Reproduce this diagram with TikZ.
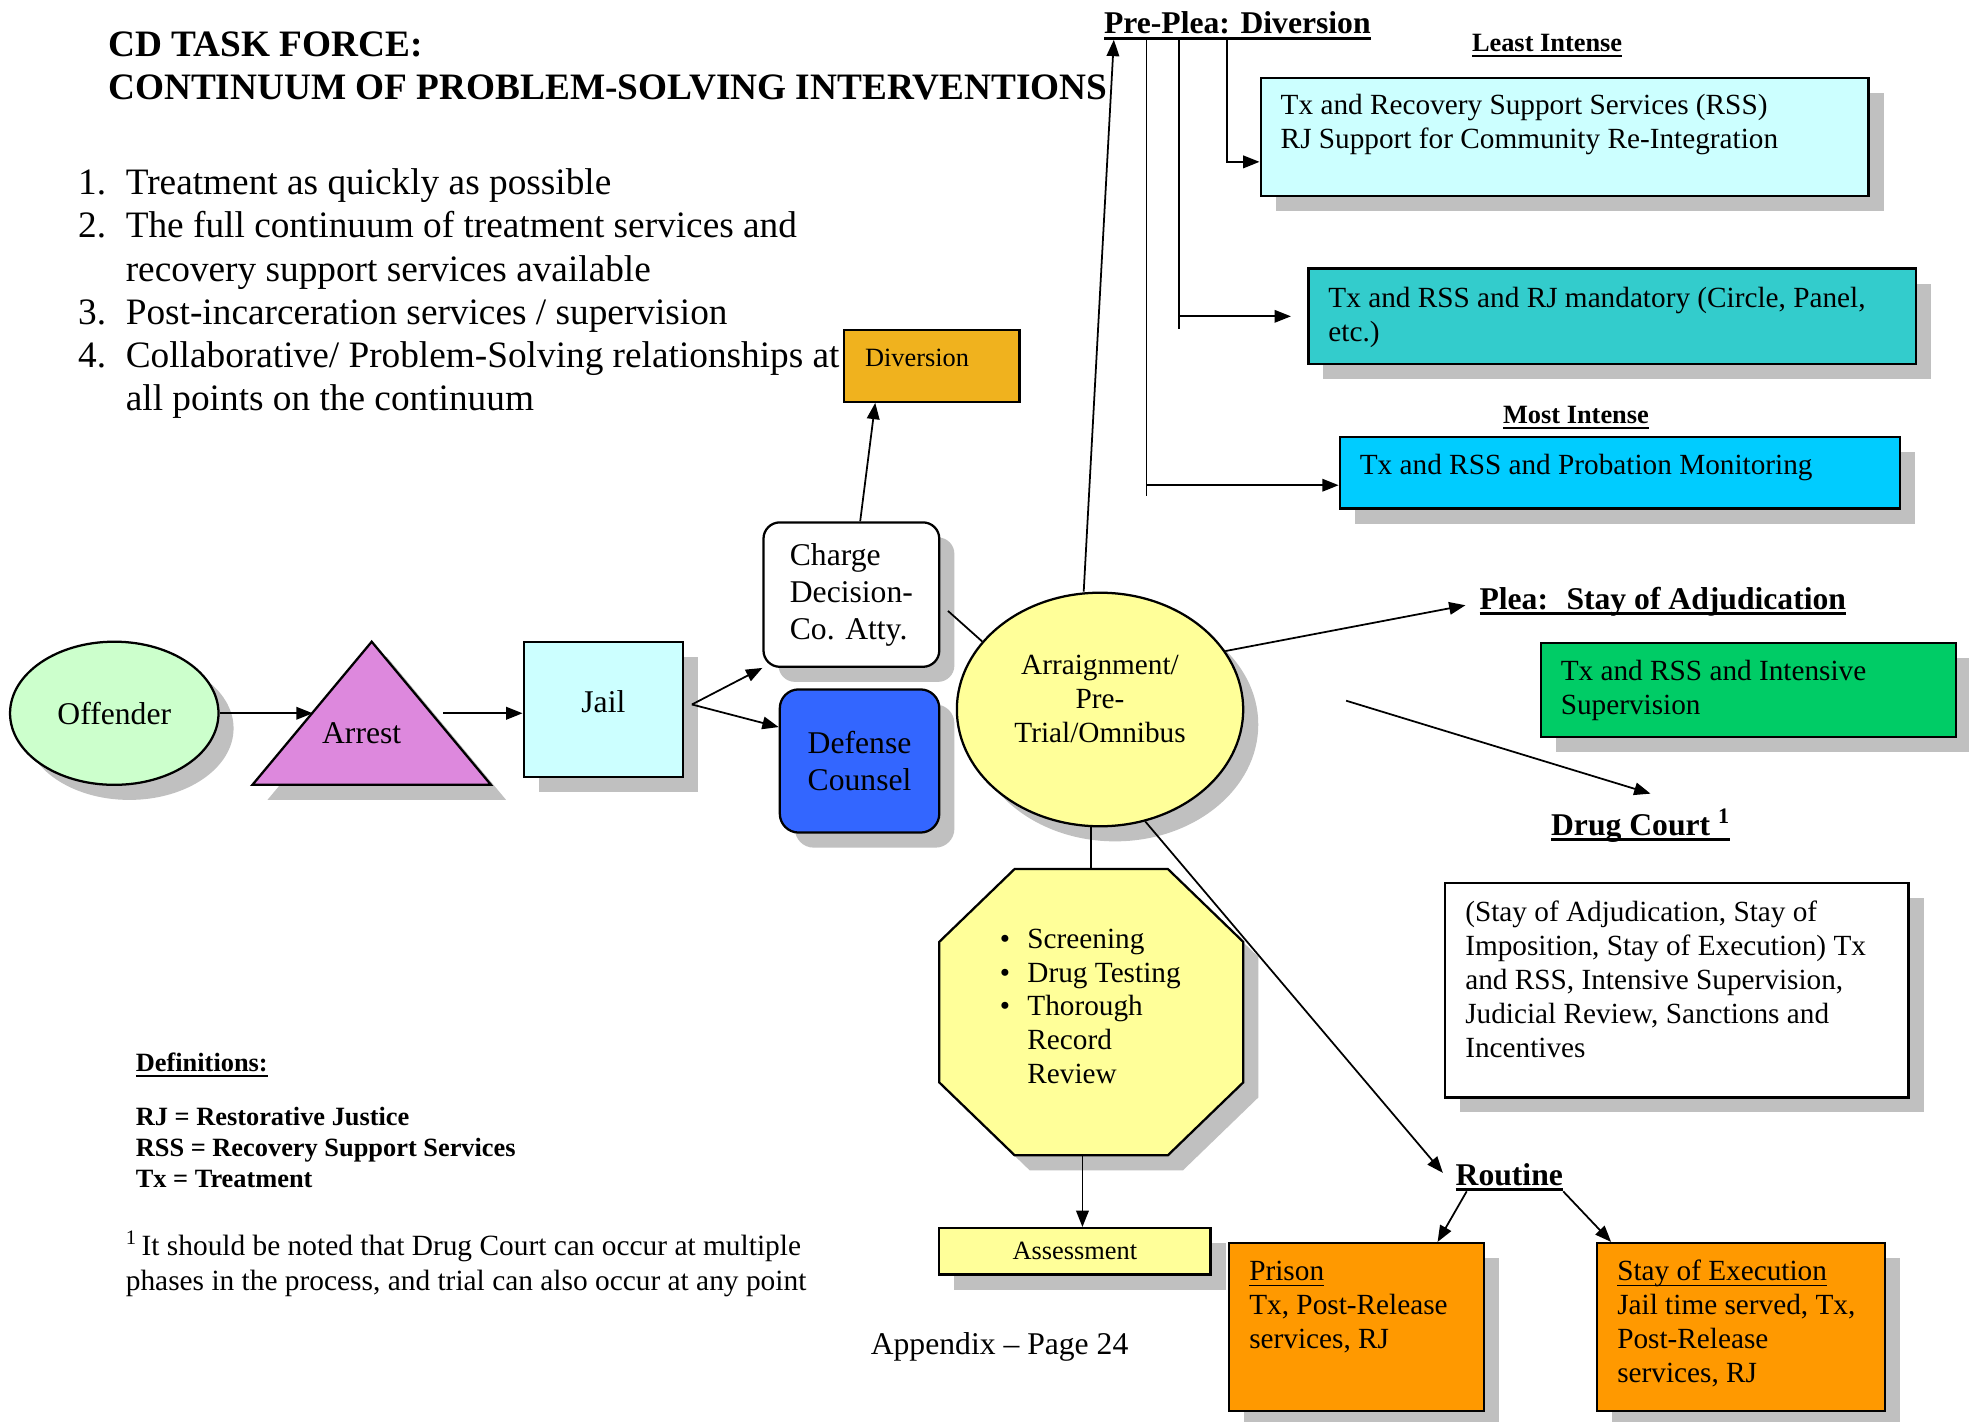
\documentclass[tikz,border=0pt]{standalone}
\usepackage{fontspec}
\setmainfont{Liberation Serif}
\usetikzlibrary{arrows.meta,shapes.geometric,shadows,calc}

\newlength{\du}
\setlength{\du}{1pt}

\definecolor{offgreen}{HTML}{CCFFCC}
\definecolor{arrestpink}{HTML}{DD88DD}
\definecolor{paleblue}{HTML}{CCFFFF}
\definecolor{divgold}{HTML}{F0B21E}
\definecolor{defblue}{HTML}{3366FF}
\definecolor{paleyellow}{HTML}{FFFF99}
\definecolor{mandteal}{HTML}{33CCCC}
\definecolor{probblue}{HTML}{00CCFF}
\definecolor{supgreen}{HTML}{00CC66}
\definecolor{routeorange}{HTML}{FF9900}
\definecolor{shadowgray}{HTML}{C0C0C0}

\newcommand{\sizeXL}{\fontsize{29.7}{34.4}\selectfont}
\newcommand{\sizeL}{\fontsize{25.2}{29.5}\selectfont}
\newcommand{\sizeM}{\fontsize{23.3}{27}\selectfont}
\newcommand{\sizeS}{\fontsize{21}{25}\selectfont}
% underline drawn as a rule of given thickness
\newcommand{\uln}[2][2.4]{\setbox0=\hbox{#2}\rlap{\rule[-4.5\du]{\wd0}{#1\du}}\box0}
% left aligned lines in a box of fixed width
\newcommand{\boxlines}[2]{\makebox[#1][l]{\begin{tabular}[t]{@{}l@{}}#2\end{tabular}}}

\tikzset{
  shape line/.style={draw=black, line width=1.8\du},
  cast shadow/.style={drop shadow={shadow xshift=12\du, shadow yshift=-12\du, fill=shadowgray, opacity=1}},
  link/.style={draw=black, line width=1.4\du},
  arrowlink/.style={link, -{Triangle[length=13pt, width=10pt]}},
  headtext/.style={inner sep=0pt, anchor=base west, font=\sizeL\bfseries},
  servicebox/.style={shape line, cast shadow, anchor=north west, inner xsep=16\du, inner ysep=0pt, font=\sizeM},
}

\begin{document}
\begin{tikzpicture}[x=\du, y=-\du]
\useasboundingbox (0,0) rectangle (1568,1132);
\fill[white] (0,0) rectangle (1568,1132);

% heading and goals
\node[anchor=base west, inner sep=0pt, font=\sizeXL\bfseries] (title) at (86,45) {\begin{tabular}[t]{@{}l@{}}CD TASK FORCE:\\ CONTINUUM OF PROBLEM-SOLVING INTERVENTIONS\end{tabular}};
\node[anchor=base west, inner sep=0pt, font=\sizeXL] (goals) at (62,155) {\begin{tabular}[t]{@{}p{38\du}@{}l@{}}
1. & Treatment as quickly as possible\\
2. & The full continuum of treatment services and\\
   & recovery support services available\\
3. & Post-incarceration services / supervision\\
4. & Collaborative/ Problem-Solving relationships at\\
   & all points on the continuum
\end{tabular}};

% left chain
\node[shape line, ellipse, fill=offgreen, cast shadow, minimum width=166\du, minimum height=114\du, inner sep=0pt, font=\sizeL] (offender) at (91,568) {Offender};
\fill[shadowgray] (308,523) -- (403,637) -- (213,637) -- cycle;
\filldraw[shape line, fill=arrestpink] (296,511) -- (391,625) -- (201,625) -- cycle;
\node[inner sep=0pt, font=\sizeL] (arrest) at (288,584) {Arrest};
\coordinate (arrestW) at (249,568);
\coordinate (arrestE) at (353,568);
\node[shape line, fill=paleblue, cast shadow, minimum width=127\du, minimum height=108\du, font=\sizeL] (jail) at (480.5,565) {\raisebox{-2\du}[0pt][0pt]{Jail}};
\coordinate (jailR) at (551,561);

\node[shape line, fill=divgold, anchor=north west, inner xsep=17\du, inner ysep=0pt, text height=29\du, text depth=28\du, font=\sizeS] (diversion) at (671,262) {\boxlines{106\du}{Diversion}};
\node[shape line, fill=white, rounded corners=13\du, cast shadow, minimum width=140\du, minimum height=115\du, align=left, font=\sizeL] (charge) at (678,473.5) {Charge\\ Decision-\\ Co. Atty.};
\node[shape line, fill=defblue, rounded corners=15\du, cast shadow, minimum width=127\du, minimum height=114\du, align=center, font=\sizeL] (defense) at (684.5,606) {Defense\\ Counsel};

\node[shape line, ellipse, fill=paleyellow, cast shadow, minimum width=228\du, minimum height=186\du, inner sep=0pt, font=\sizeM] (arraign) at (876,565) {\raisebox{28\du}[0pt][0pt]{\begin{tabular}[t]{@{}c@{}}Arraignment/\\ Pre-\\ Trial/Omnibus\end{tabular}}};

% screening octagon
\fill[shadowgray] (820,704) -- (942,704) -- (1002,762) -- (1002,874) -- (942,932) -- (820,932) -- (760,874) -- (760,762) -- cycle;
\filldraw[shape line, fill=paleyellow] (808,692) -- (930,692) -- (990,750) -- (990,862) -- (930,920) -- (808,920) -- (748,862) -- (748,750) -- cycle;
\node[anchor=base west, inner sep=0pt, font=\sizeM] (screening) at (796,755) {\begin{tabular}[t]{@{}p{22\du}@{}l@{}}
\textbullet & Screening\\
\textbullet & Drug Testing\\
\textbullet & Thorough\\
 & Record\\
 & Review
\end{tabular}};
\coordinate (octTop) at (869,692);
\coordinate (octBot) at (862,920);
\node[shape line, fill=paleyellow, cast shadow, minimum width=216\du, minimum height=37\du, font=\sizeS] (assess) at (856,996.5) {Assessment};

% pre-plea
\node[headtext] (preplea) at (879,27) {\uln{Pre-Plea: Diversion}};
\node[inner sep=0pt, anchor=base, font=\sizeS\bfseries] (leastint) at (1232,41) {\uln[1.5]{Least Intense}};
\node[servicebox, fill=paleblue, text height=29\du, text depth=65\du] (rss) at (1003,61) {\boxlines{452\du}{Tx and Recovery Support Services (RSS)\\ RJ Support for Community Re-Integration}};
\node[servicebox, fill=mandteal, text height=31\du, text depth=45\du] (mandatory) at (1041,213) {\boxlines{452\du}{Tx and RSS and RJ mandatory (Circle, Panel,\\ etc.)}};
\node[inner sep=0pt, anchor=base, font=\sizeS\bfseries] (mostint) at (1255,337) {\uln[1.5]{Most Intense}};
\node[servicebox, fill=probblue, text height=30\du, text depth=27\du] (probation) at (1066,347) {\boxlines{414\du}{Tx and RSS and Probation Monitoring}};

% plea
\node[headtext] (plea) at (1178,485) {\uln{Plea:~ Stay of Adjudication}};
\node[servicebox, fill=supgreen, text height=30\du, text depth=45\du] (intensive) at (1226,511) {\boxlines{299\du}{Tx and RSS and Intensive\\ Supervision}};

% drug court
\node[headtext] (drugcourt) at (1235,665) {\uln{Drug Court~\textsuperscript{1}}};
\coordinate (dcStart) at (1072,558);
\node[servicebox, fill=white, text height=31\du, text depth=140\du] (dcbox) at (1150,702) {\boxlines{337\du}{(Stay of Adjudication, Stay of\\ Imposition, Stay of Execution) Tx\\ and RSS, Intensive Supervision,\\ Judicial Review, Sanctions and\\ Incentives}};

% routine
\node[headtext] (routine) at (1159,944) {\uln{Routine}};
\node[servicebox, fill=routeorange, text height=30\du, text depth=104\du] (prison) at (978,989) {\boxlines{171\du}{\uln[1.3]{Prison}\\ Tx, Post-Release\\ services, RJ}};
\node[servicebox, fill=routeorange, text height=30\du, text depth=104\du] (stay) at (1271,989) {\boxlines{197\du}{\uln[1.3]{Stay of Execution}\\ Jail time served, Tx,\\ Post-Release\\ services, RJ}};

% notes
\node[anchor=base west, inner sep=0pt, font=\sizeS\bfseries] (defs) at (108,853) {\begin{tabular}[t]{@{}l@{}}\uln[1.6]{Definitions:}\\[18\du]
RJ = Restorative Justice\\
RSS = Recovery Support Services\\
Tx = Treatment
\end{tabular}};
\node[anchor=base west, inner sep=0pt, font=\fontsize{23.4}{28}\selectfont] (footnote) at (100,1000) {\begin{tabular}[t]{@{}l@{}}\textsuperscript{1}\,It should be noted that Drug Court can occur at multiple\\ phases in the process, and trial can also occur at any point\end{tabular}};
\node[anchor=base, inner sep=0pt, font=\sizeL] (pagefoot) at (796,1079) {Appendix -- Page 24};

% connectors
\draw[arrowlink] (offender.east) -- (arrestW);
\draw[arrowlink] (arrestE) -- (arrestE -| jail.west);
\draw[arrowlink] (jailR) -- (charge.south west);
\draw[arrowlink] (jailR) -- ([yshift=27\du]defense.west);
\draw[arrowlink] ([xshift=7\du]charge.north) -- ([xshift=26\du]diversion.south west);
\draw[link] ([shift={(6\du,-13\du)}]charge.east) -- (arraign.150);
\draw[arrowlink] ([xshift=-13\du]arraign.north) -- ([xshift=8\du]preplea.south west);

\coordinate (tapA) at ([xshift=98\du]preplea.south west);
\coordinate (tapB) at ([xshift=60\du]preplea.south west);
\coordinate (tapC) at ([xshift=34\du]preplea.south west);
\coordinate (inA) at ($(rss.west)+(0,20)$);
\coordinate (inB) at ($(mandatory.west)+(-13,0)$);
\coordinate (inC) at ($(probation.west)+(0,10)$);
\draw[arrowlink] (tapA) |- (inA);
\draw[link] (tapB) -- ++(0,230);
\draw[arrowlink] (tapB |- inB) -- (inB);
\draw[link] (tapC) -- ++(0,363);
\draw[arrowlink] (tapC |- inC) -- (inC);

\draw[arrowlink] (arraign.25) -- ([shift={(-11\du,3\du)}]plea.base west);
\draw[arrowlink] (dcStart) -- ([shift={(8\du,33\du)}]drugcourt.base);
\draw[arrowlink] (arraign.-68) -- ([shift={(-10\du,10\du)}]routine.base west);
\draw[arrowlink] ([xshift=9\du]routine.south west) -- ([xshift=-38\du]prison.north east);
\draw[arrowlink] (routine.south east) -- ([xshift=12\du]stay.north west);
\draw[link] (octTop |- arraign.south) -- (octTop);
\draw[arrowlink] (octBot) -- (octBot |- assess.north);
\end{tikzpicture}
\end{document}
